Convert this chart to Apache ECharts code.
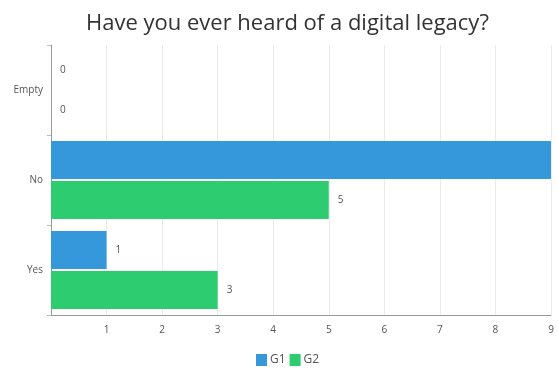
<!DOCTYPE html>
<html>
<head>
<meta charset="utf-8">
<script src="https://cdn.jsdelivr.net/npm/echarts@6/dist/echarts.min.js"></script>
<style>
  html, body { margin: 0; padding: 0; background: #fff; }
  #chart { width: 558px; height: 370px; }
</style>
</head>
<body>
<div id="chart"></div>
<script>
const categories = ['Empty', 'No', 'Yes'];
const g1Values = [0, 9, 1];
const g2Values = [0, 5, 3];
const xTicks = [0, 1, 2, 3, 4, 5, 6, 7, 8, 9];

const myChart = echarts.init(document.getElementById('chart'));

const labelStyle = {
    show: true,
    position: 'right',
    distance: 9,
    color: '#555',
    fontSize: 10,
    fontFamily: 'Open Sans'
};

const option = {
    textStyle: { fontFamily: 'Open Sans' },
    title: {
        text: 'Have you ever heard of a digital legacy?',
        left: 81,
        top: 8,
        textStyle: {
            fontFamily: 'Open Sans',
            fontSize: 22,
            fontWeight: 'normal',
            color: '#333'
        }
    },
    legend: {
        top: 349,
        left: 251,
        itemWidth: 11,
        itemHeight: 12,
        itemGap: 4,
        icon: 'rect',
        textStyle: { fontSize: 12, color: '#555', fontFamily: 'Open Sans', padding: [0, 0, 0, -2] },
        data: ['G1', 'G2']
    },
    grid: {
        left: 51,
        right: 7,
        top: 45,
        bottom: 55,
        containLabel: false
    },
    xAxis: {
        type: 'value',
        min: xTicks[0],
        max: xTicks[xTicks.length - 1],
        interval: 1,
        axisLine: { show: true, lineStyle: { color: '#999' } },
        axisTick: { show: false },
        axisLabel: {
            showMinLabel: false,
            color: '#555',
            fontSize: 10,
            margin: 10
        },
        splitLine: { show: true, lineStyle: { color: '#ebebeb' } }
    },
    yAxis: {
        type: 'category',
        inverse: true,
        data: categories,
        axisLine: { show: true, lineStyle: { color: '#999' } },
        axisTick: { show: true, length: 4, lineStyle: { color: '#bbb' } },
        axisLabel: { color: '#555', fontSize: 10, margin: 8 },
        splitLine: { show: false }
    },
    series: [
        {
            name: 'G1',
            type: 'bar',
            data: g1Values,
            color: '#3498db',
            barWidth: 38,
            barGap: '5%',
            label: labelStyle
        },
        {
            name: 'G2',
            type: 'bar',
            data: g2Values,
            color: '#2ecc71',
            barWidth: 38,
            barGap: '5%',
            label: labelStyle
        }
    ]
};

myChart.setOption(option);
</script>
</body>
</html>
